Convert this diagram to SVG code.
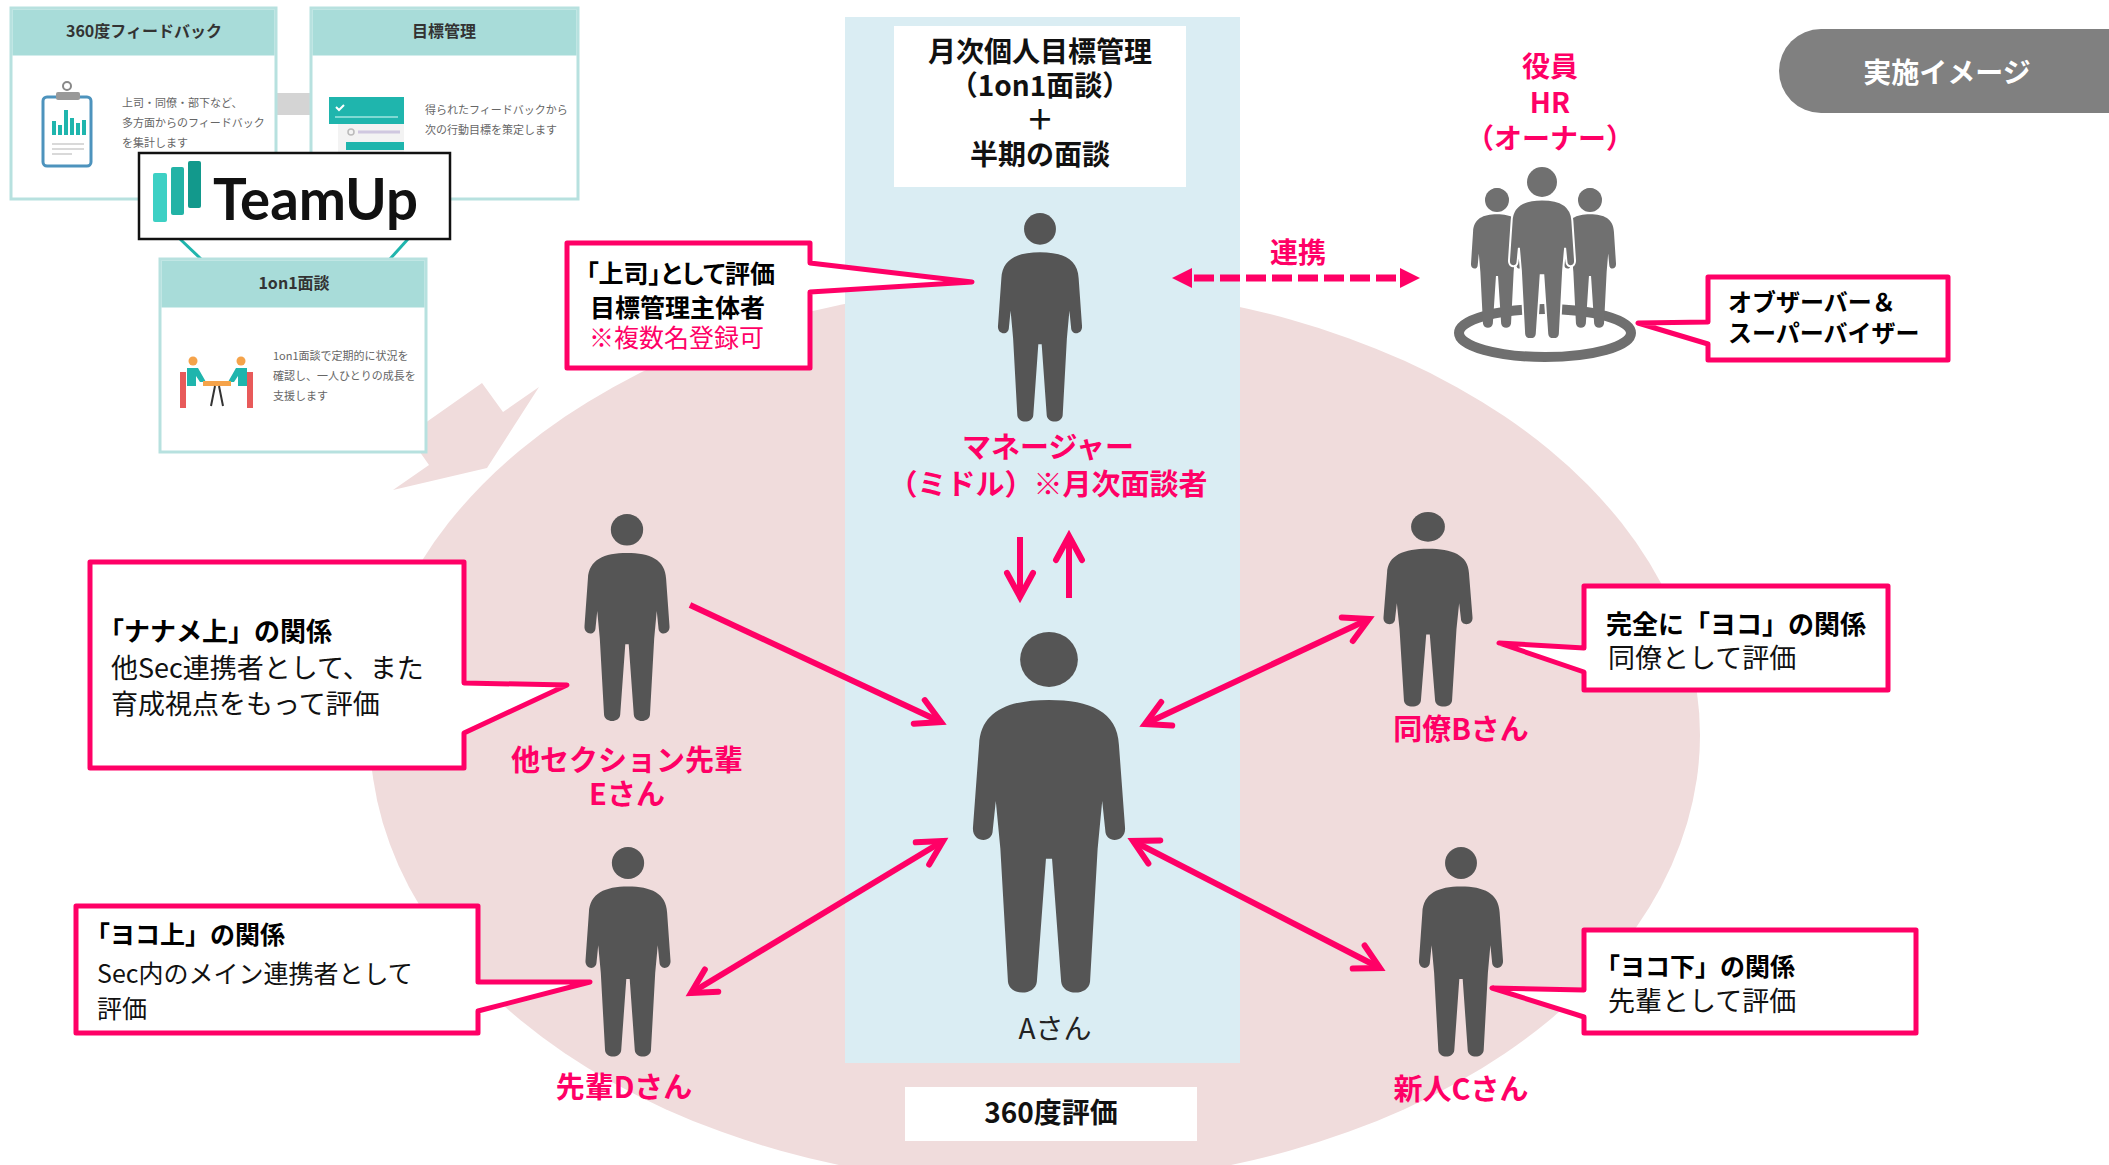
<svg xmlns="http://www.w3.org/2000/svg" xmlns:xlink="http://www.w3.org/1999/xlink" width="2109" height="1165" viewBox="0 0 2109 1165">
<style>
text{font-family:'Noto Sans CJK JP','Noto Sans',sans-serif}
.lbl{font-size:29px;font-weight:700;fill:#ff0066;text-anchor:middle}
.ttl{font-size:28px;font-weight:700;fill:#111;text-anchor:middle}
.co{fill:#fff;stroke:#ff0066;stroke-width:5;stroke-linejoin:round}
.cap{font-weight:700;fill:#000}
.txt{fill:#111;font-weight:400}
.arw{fill:none;stroke:#ff0066;stroke-width:6}
.card{fill:#fff;stroke:#b7e1df;stroke-width:3}
.cardh{fill:#a8dcd9}
.cardt{font-size:16px;font-weight:700;fill:#333;text-anchor:middle}
.small{font-size:11px;fill:#666}
.fig{fill:#555}
.hr{fill:#707070}
</style>
<defs>
  <!-- generic standing person, head top at y=0, feet at y=250, centred on x=0 -->
  <g id="person">
    <circle cx="0" cy="19" r="19"/>
    <path d="M0 47 C27 47 45 55 46 78 L50 135 C51 146 37 147 37 137 L35 117 L32 150 L27 242 C26 252 9 252 8 242 L2 157 L-2 157 L-8 242 C-9 252 -26 252 -27 242 L-32 150 L-35 117 L-37 137 C-37 147 -51 146 -50 135 L-46 78 C-45 55 -27 47 0 47 Z"/>
  </g>
  <marker id="ah" viewBox="-30 -20 40 40" refX="0" refY="0" markerWidth="40" markerHeight="40" markerUnits="userSpaceOnUse" orient="auto-start-reverse">
    <path d="M-24,-13 L0,0 L-24,13" fill="none" stroke="#ff0066" stroke-width="6" stroke-linecap="round"/>
  </marker>
</defs>

<rect width="2109" height="1165" fill="#fff"/>

<!-- background areas -->
<g id="backdrop">
  <ellipse cx="1035" cy="735" rx="665" ry="450" fill="#f0dcdc"/>
  <polygon points="482,383 503,412 539,387 487,468 393,490 429,465 408,435" fill="#f0dcdc"/>
  <rect x="845" y="17" width="395" height="1046" fill="#daedf3"/>
</g>

<!-- TeamUp feature cards -->
<g id="teamup">
  <rect x="276" y="93" width="35" height="22" fill="#d4d4d4"/>
  <line x1="180" y1="239" x2="201" y2="259" stroke="#1fb5ad" stroke-width="3"/>
  <line x1="408" y1="239" x2="390" y2="259" stroke="#1fb5ad" stroke-width="3"/>

  <g id="card-360">
    <rect class="card" x="11" y="8" width="265" height="191"/>
    <rect class="cardh" x="12.5" y="9.5" width="262" height="46"/>
    <text class="cardt" x="144" y="37">360度フィードバック</text>
    <rect x="43" y="97" width="48" height="69" rx="4" fill="#fff" stroke="#4d93bd" stroke-width="3"/>
    <circle cx="67" cy="86" r="4" fill="none" stroke="#888" stroke-width="2"/>
    <rect x="56" y="92" width="24" height="8" rx="2" fill="#999"/>
    <g fill="#1fb5ad">
      <rect x="52" y="121" width="4" height="14"/><rect x="58" y="125" width="4" height="10"/>
      <rect x="64" y="110" width="4" height="25"/><rect x="70" y="118" width="4" height="17"/>
      <rect x="76" y="123" width="4" height="12"/><rect x="82" y="120" width="4" height="15"/>
    </g>
    <g stroke="#ccc" stroke-width="1.5">
      <line x1="52" y1="144" x2="84" y2="144"/><line x1="52" y1="149" x2="84" y2="149"/><line x1="52" y1="154" x2="72" y2="154"/>
    </g>
    <text class="small" x="122" y="107">上司・同僚・部下など、<tspan x="122" dy="20">多方面からのフィードバック</tspan><tspan x="122" dy="20">を集計します</tspan></text>
  </g>

  <g id="card-goal">
    <rect class="card" x="311" y="8" width="267" height="191"/>
    <rect class="cardh" x="312.5" y="9.5" width="264" height="46"/>
    <text class="cardt" x="444" y="37">目標管理</text>
    <rect x="338" y="124" width="66" height="30" fill="#f3f3f3"/>
    <rect x="329" y="97" width="75" height="27" fill="#1fb5ad"/>
    <path d="M336 107 l3 3 l5 -5" fill="none" stroke="#fff" stroke-width="2"/>
    <line x1="335" y1="117" x2="398" y2="117" stroke="#7fd9d3" stroke-width="2"/>
    <circle cx="351" cy="132" r="3" fill="none" stroke="#bbb" stroke-width="1.5"/>
    <line x1="358" y1="132" x2="400" y2="132" stroke="#d0c8e0" stroke-width="3"/>
    <rect x="346" y="142" width="58" height="8" fill="#1fb5ad"/>
    <text class="small" x="425" y="114">得られたフィードバックから<tspan x="425" dy="20">次の行動目標を策定します</tspan></text>
  </g>

  <g id="card-1on1">
    <rect class="card" x="160" y="259" width="266" height="193"/>
    <rect class="cardh" x="161.5" y="260.5" width="263" height="47"/>
    <text class="cardt" x="294" y="289">1on1面談</text>
    <rect x="180" y="372" width="6" height="36" fill="#e85a5a"/>
    <rect x="247" y="372" width="6" height="36" fill="#e85a5a"/>
    <circle cx="193" cy="361" r="4.5" fill="#f5a34a"/>
    <circle cx="241" cy="361" r="4.5" fill="#f5a34a"/>
    <path d="M187 368 h11 l8 14 h-6 l-4 -6 v10 h-9 z" fill="#1fb5ad"/>
    <path d="M247 368 h-11 l-8 14 h6 l4 -6 v10 h9 z" fill="#1fb5ad"/>
    <rect x="203" y="381" width="28" height="5" fill="#f5a34a"/>
    <path d="M215 386 l-4 20 M219 386 l4 20" stroke="#333" stroke-width="2"/>
    <text class="small" x="273" y="360">1on1面談で定期的に状況を<tspan x="273" dy="20">確認し、一人ひとりの成長を</tspan><tspan x="273" dy="20">支援します</tspan></text>
  </g>

  <g id="logo">
    <rect x="139" y="153" width="311" height="86" fill="#fff" stroke="#111" stroke-width="2.5"/>
    <rect x="153" y="173" width="14" height="49" rx="2" fill="#3dd0c4"/>
    <rect x="171" y="167" width="13" height="48" rx="2" fill="#22b3a6"/>
    <rect x="188" y="161" width="13" height="47" rx="2" fill="#12998c"/>
    <text x="213" y="220" textLength="205" lengthAdjust="spacingAndGlyphs" style="font-family:Lato,'Open Sans',sans-serif;font-weight:700;font-size:58px" fill="#111">TeamUp</text>
  </g>
</g>

<!-- white title boxes -->
<g id="title-box">
  <rect x="894" y="26" width="292" height="161" fill="#fff"/>
  <text class="ttl" x="1040" y="62">月次個人目標管理<tspan x="1040" dy="34">（1on1面談）</tspan><tspan x="1040" dy="34">＋</tspan><tspan x="1040" dy="35">半期の面談</tspan></text>
</g>
<g id="eval-box">
  <rect x="905" y="1087" width="292" height="54" fill="#fff"/>
  <text class="ttl" x="1051" y="1123">360度評価</text>
</g>

<g id="badge">
  <rect x="1779" y="29" width="400" height="84" rx="42" fill="#808080"/>
  <text x="1947" y="83" text-anchor="middle" style="font-size:28px;font-weight:700" fill="#fff">実施イメージ</text>
</g>

<!-- connectors -->
<g id="connectors">
  <line class="arw" x1="690" y1="605" x2="941" y2="722" marker-end="url(#ah)"/>
  <line class="arw" x1="691" y1="993" x2="943" y2="841" marker-start="url(#ah)" marker-end="url(#ah)"/>
  <line class="arw" x1="1145" y1="724" x2="1369" y2="619" marker-start="url(#ah)" marker-end="url(#ah)"/>
  <line class="arw" x1="1133" y1="841" x2="1380" y2="968" marker-start="url(#ah)" marker-end="url(#ah)"/>
  <line class="arw" x1="1020" y1="537" x2="1020" y2="597" marker-end="url(#ah)"/>
  <line class="arw" x1="1069" y1="598" x2="1069" y2="536" marker-end="url(#ah)"/>
  <g id="link-hr">
    <line x1="1194" y1="278" x2="1402" y2="278" stroke="#ff0066" stroke-width="7" stroke-dasharray="20 6"/>
    <polygon points="1172,278 1192,268 1192,288" fill="#ff0066"/>
    <polygon points="1420,278 1400,268 1400,288" fill="#ff0066"/>
    <text x="1298" y="263" text-anchor="middle" style="font-size:28px;font-weight:700" fill="#ff0066">連携</text>
  </g>
</g>

<!-- people -->
<g id="node-manager">
  <use xlink:href="#person" class="fig" transform="translate(1040 213) scale(0.84 0.836)"/>
  <text class="lbl" x="1048" y="458">マネージャー<tspan x="1048" dy="37">（ミドル）※月次面談者</tspan></text>
</g>
<g id="node-a">
  <use xlink:href="#person" class="fig" transform="translate(1049 632) scale(1.52 1.445)"/>
  <text x="1055" y="1039" text-anchor="middle" style="font-size:28px" fill="#222">Aさん</text>
</g>
<g id="node-e">
  <use xlink:href="#person" class="fig" transform="translate(627 514) scale(0.85 0.83)"/>
  <text class="lbl" x="627" y="771">他セクション先輩<tspan x="627" dy="34">Eさん</tspan></text>
</g>
<g id="node-d">
  <use xlink:href="#person" class="fig" transform="translate(628 847) scale(0.85 0.84)"/>
  <text class="lbl" x="624" y="1098">先輩Dさん</text>
</g>
<g id="node-b">
  <use xlink:href="#person" class="fig" transform="translate(1428 512) scale(0.89 0.78)"/>
  <text class="lbl" x="1461" y="740">同僚Bさん</text>
</g>
<g id="node-c">
  <use xlink:href="#person" class="fig" transform="translate(1461 847) scale(0.84 0.84)"/>
  <text class="lbl" x="1461" y="1100">新人Cさん</text>
</g>
<g id="node-hr">
  <ellipse cx="1545" cy="333" rx="86" ry="24" fill="none" stroke="#6f6f6f" stroke-width="10"/>
  <use xlink:href="#person" class="hr" transform="translate(1497 188) scale(0.52 0.56)"/>
  <use xlink:href="#person" class="hr" transform="translate(1590 188) scale(0.52 0.56)"/>
  <circle cx="1497" cy="200" r="12" class="hr"/>
  <circle cx="1590" cy="200" r="12" class="hr"/>
  <use xlink:href="#person" class="hr" stroke="#fff" stroke-width="3" transform="translate(1542 167) scale(0.66 0.69)"/>
  <circle cx="1542" cy="182" r="15" class="hr"/>
  <text class="lbl" x="1550" y="77" style="font-size:28px">役員<tspan x="1550" dy="36">HR</tspan><tspan x="1550" dy="36">（オーナー）</tspan></text>
</g>

<!-- speech callouts -->
<g id="callout-boss">
  <path class="co" d="M567,243 H810 V263 L972,282 L810,292 V368 H567 Z"/>
  <text class="cap" x="586" y="283" style="font-size:25px;font-feature-settings:'palt'">「上司」として評価<tspan x="590" dy="34">目標管理主体者</tspan><tspan x="589" dy="30" fill="#ff0066" style="font-weight:400">※複数名登録可</tspan></text>
</g>
<g id="callout-diag">
  <path class="co" d="M90,562 H464 V683 L567,685 L464,733 V768 H90 Z"/>
  <text class="cap" x="98" y="641" style="font-size:26px">「ナナメ上」の関係<tspan class="txt" x="111" dy="37" style="font-size:27px">他Sec連携者として、また</tspan><tspan class="txt" x="111" dy="36" style="font-size:27px">育成視点をもって評価</tspan></text>
</g>
<g id="callout-side-up">
  <path class="co" d="M76,906 H478 V982 L590,982 L478,1011 V1033 H76 Z"/>
  <text class="cap" x="85" y="944" style="font-size:25px">「ヨコ上」の関係<tspan class="txt" x="97" dy="39">Sec内のメイン連携者として</tspan><tspan class="txt" x="97" dy="35">評価</tspan></text>
</g>
<g id="callout-side">
  <path class="co" d="M1584,586 H1888 V690 H1584 V672 L1499,643 L1584,648 Z"/>
  <text class="cap" x="1606" y="634" style="font-size:26px">完全に「ヨコ」の関係<tspan class="txt" x="1608" dy="34" style="font-size:27px">同僚として評価</tspan></text>
</g>
<g id="callout-side-down">
  <path class="co" d="M1584,930 H1916 V1033 H1584 V1017 L1492,988 L1584,990 Z"/>
  <text class="cap" x="1595" y="976" style="font-size:25px">「ヨコ下」の関係<tspan class="txt" x="1608" dy="35" style="font-size:27px">先輩として評価</tspan></text>
</g>
<g id="callout-hr">
  <path class="co" d="M1708,277 H1948 V360 H1708 V344 L1638,323 L1708,322 Z"/>
  <text class="cap" x="1728" y="311" style="font-size:24px">オブザーバー＆<tspan x="1728" dy="31">スーパーバイザー</tspan></text>
</g>
</svg>
